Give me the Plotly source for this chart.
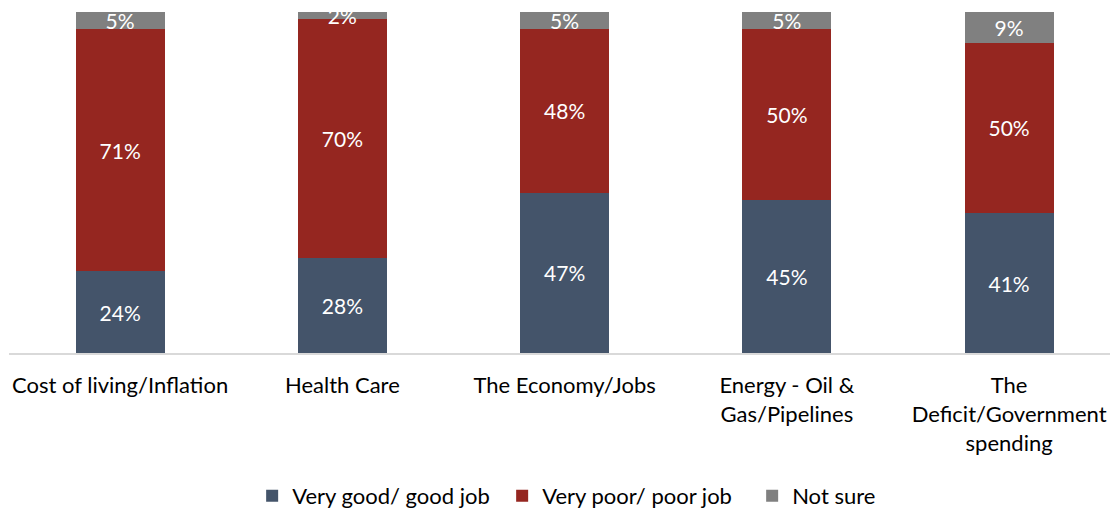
import plotly.graph_objects as go

categories = ["Cost of living/Inflation", "Health Care", "The Economy/Jobs",
              "Energy - Oil &<br>Gas/Pipelines", "The<br>Deficit/Government<br>spending"]
good = [24, 28, 47, 45, 41]
poor = [71, 70, 48, 50, 50]
notsure = [5, 2, 5, 5, 9]

series = [
    ("Very good/ good job", good, "#44546A"),
    ("Very poor/ poor job", poor, "#952620"),
    ("Not sure", notsure, "#808080"),
]

fig = go.Figure()
for name, vals, col in series:
    fig.add_trace(go.Bar(
        x=categories, y=vals, name=name,
        marker=dict(color=col, line=dict(width=0)),
        text=[f"{v}%" for v in vals],
        textposition="inside", insidetextanchor="middle",
        textfont=dict(color="white", size=21, family="Lato"),
        hoverinfo="skip",
    ))

fig.update_layout(
    barmode="stack",
    bargap=0.6,
    width=1110, height=510,
    margin=dict(l=9, r=0, t=12, b=157, autoexpand=False),
    paper_bgcolor="white", plot_bgcolor="white",
    font=dict(family="Lato", size=22, color="#000000"),
    uniformtext=dict(minsize=21, mode="show"),
    showlegend=True,
    legend=dict(orientation="h", x=0.565, xanchor="center", xref="container",
                y=14/510, yanchor="middle", yref="container",
                entrywidth=205, entrywidthmode="pixels",
                font=dict(size=22, color="#000000"), traceorder="normal"),
)
fig.update_xaxes(
    range=[-0.5, 4.454], showgrid=False, showline=True, linecolor="#D9D9D9", linewidth=2,
    ticks="", ticklabelstandoff=12, tickfont=dict(size=22, color="#000000"),
)
fig.update_yaxes(range=[0, 100], visible=False, showgrid=False)

fig.write_html("out.html", config={"displayModeBar": False},
               post_script="document.body.style.margin='0';document.body.style.overflow='hidden';")
